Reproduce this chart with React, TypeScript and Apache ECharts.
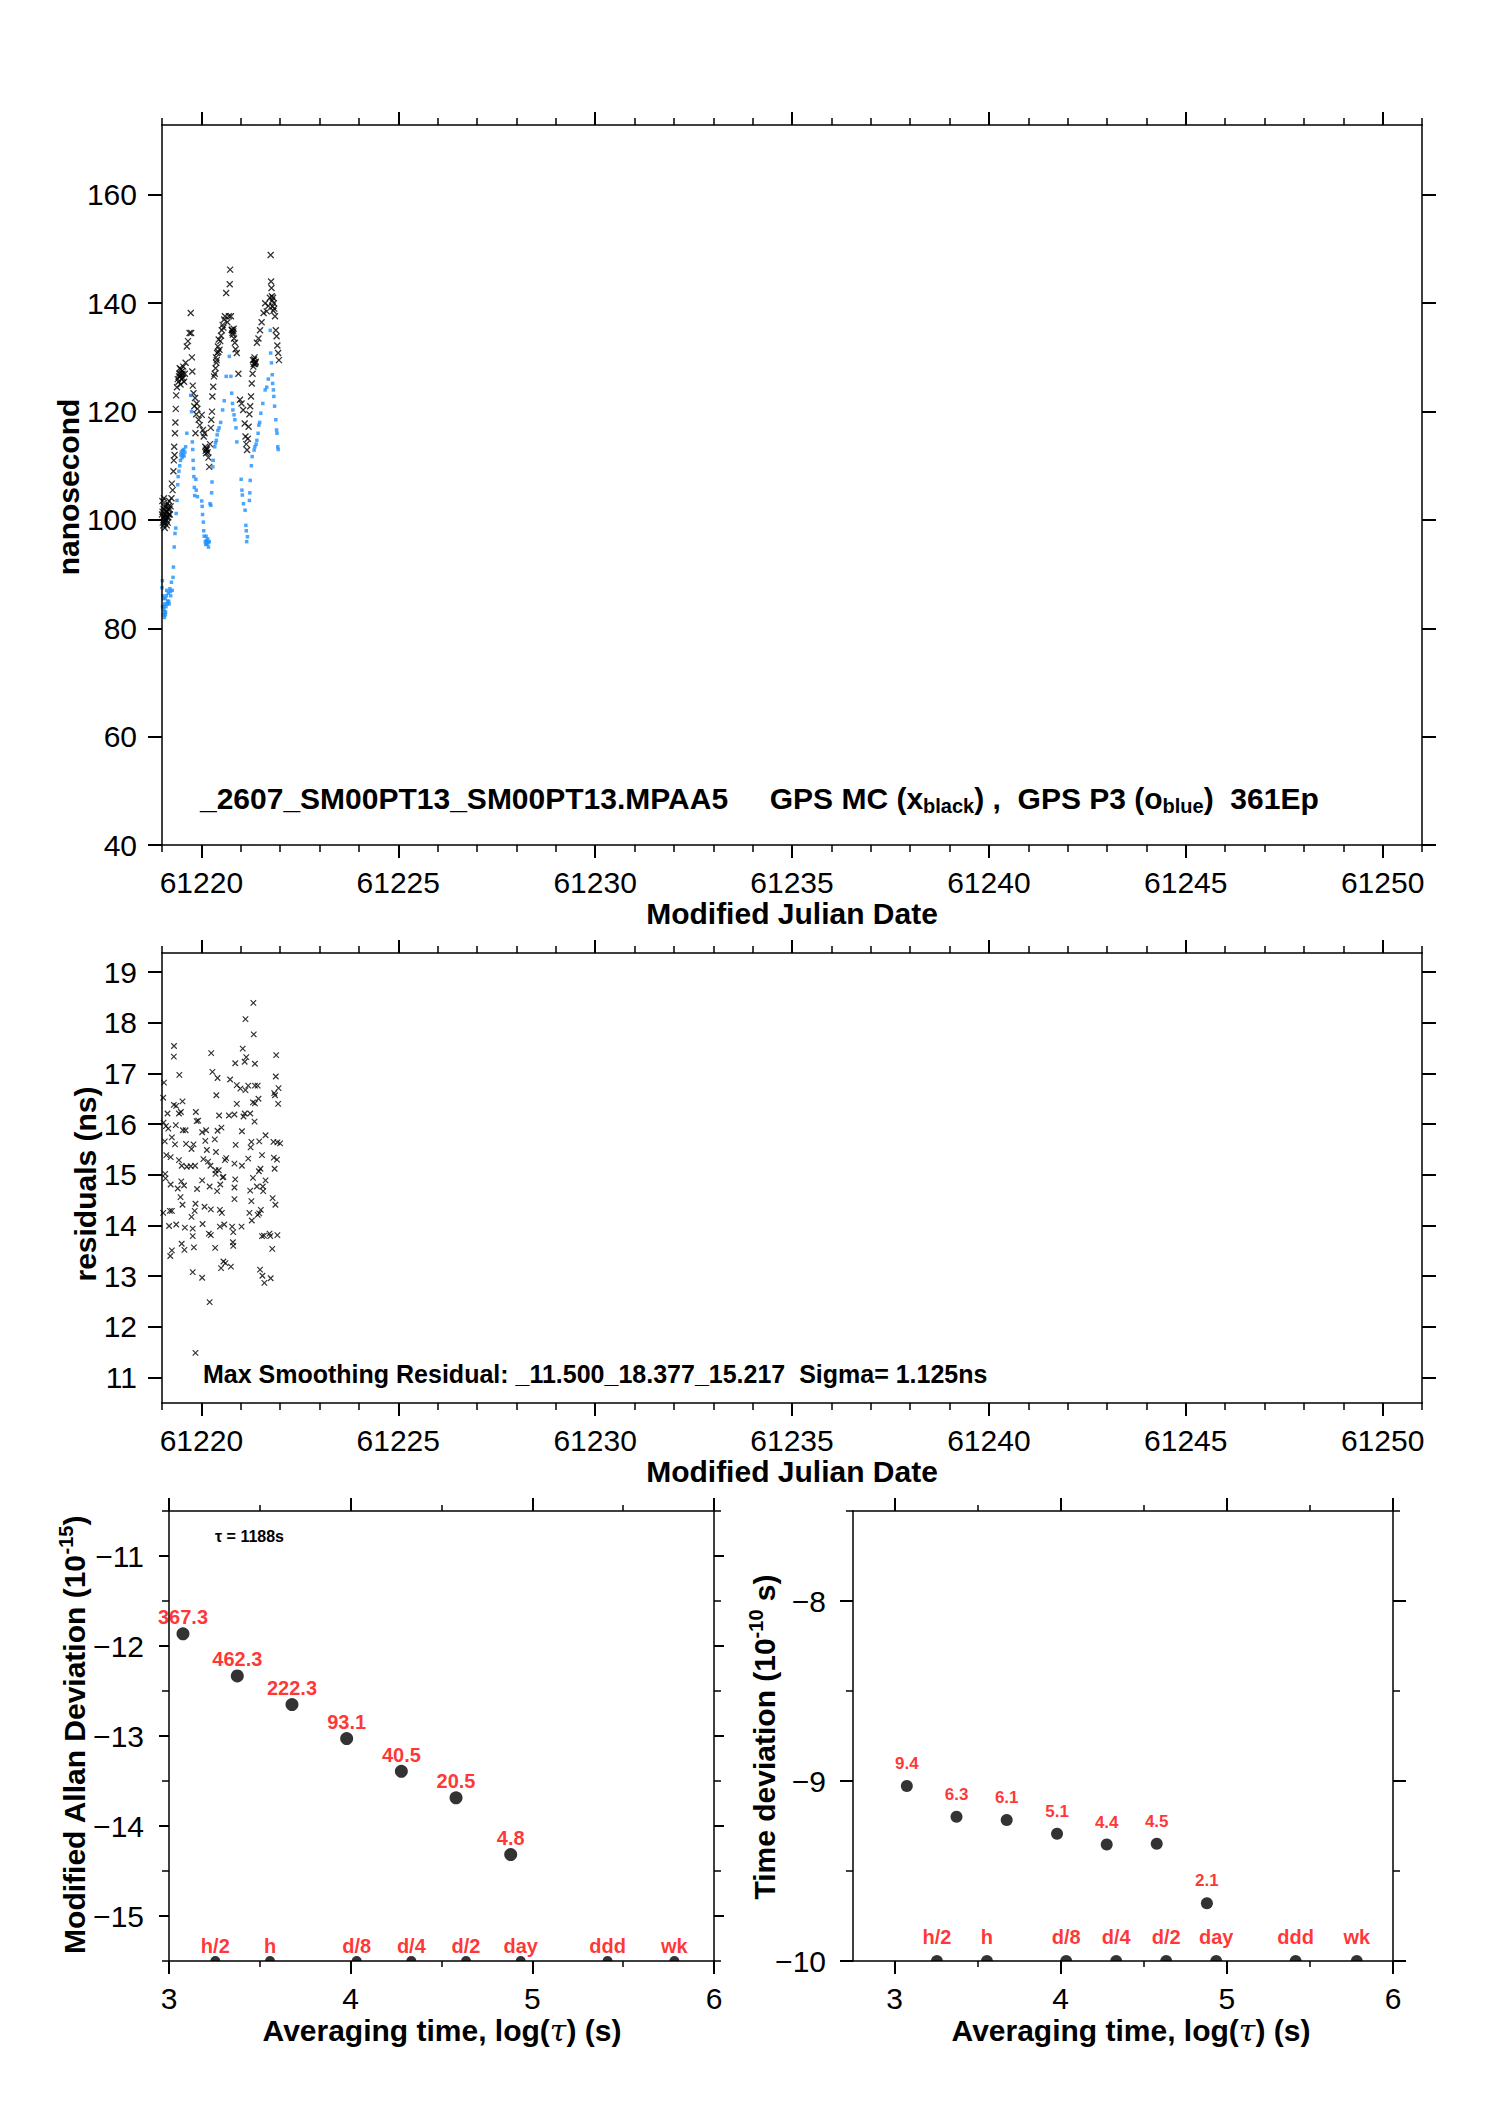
import { useEffect, useRef } from "react"
import * as echarts from "echarts"

const FONT = "Liberation Sans"

// ---- time axis (MJD) ----
const mjdStart = 61219
const mjdMin = 61219
const mjdMax = 61251
const mjdMajorTicks = [61220, 61225, 61230, 61235, 61240, 61245, 61250]
const mjdMinorTicks = Array.from({ length: mjdMax - mjdMin + 1 }, (_, i) => mjdMin + i)

// ---- top panel: nanosecond ----
const nsRange = [40, 172.9]
const nsTicks = [40, 60, 80, 100, 120, 140, 160]

// [days after mjdStart, ns]  GPS MC (black x)
const gpsMc = [
  [0.0, 101], [0.01, 103.5], [0.015, 101.5], [0.02, 99.5], [0.03, 100.5], [0.035, 99], [0.04, 102], [0.05, 104],
  [0.055, 102.5], [0.06, 100], [0.07, 98.5], [0.075, 100.5], [0.08, 99.5], [0.09, 101], [0.1, 102.5], [0.105, 101.5],
  [0.11, 100], [0.12, 99], [0.125, 100.5], [0.13, 101.5], [0.14, 103], [0.145, 99.5], [0.15, 102], [0.16, 100.5],
  [0.165, 102.5], [0.17, 101], [0.18, 103.5], [0.19, 102], [0.2, 101], [0.22, 102.5], [0.24, 104], [0.25, 106.7],
  [0.27, 105.5], [0.29, 109], [0.3, 111], [0.31, 113.5], [0.32, 112], [0.33, 116], [0.34, 118], [0.35, 120.5],
  [0.36, 123], [0.38, 124.5], [0.4, 126], [0.42, 125.5], [0.43, 126.5], [0.44, 127], [0.45, 128], [0.46, 126.5],
  [0.47, 125], [0.48, 127.8], [0.49, 126.8], [0.5, 126], [0.51, 127.5], [0.52, 127], [0.53, 126.2], [0.54, 128.3],
  [0.56, 125.5], [0.58, 127], [0.6, 129], [0.63, 132], [0.66, 133], [0.7, 134.5], [0.73, 138.2], [0.74, 134.5],
  [0.76, 130], [0.77, 127.4], [0.78, 124.8], [0.8, 123.4], [0.82, 121], [0.84, 122.5], [0.85, 116], [0.87, 119.5],
  [0.88, 121.5], [0.9, 120.5], [0.93, 118.5], [0.96, 117.5], [1.01, 119.4], [1.04, 116.6], [1.06, 115.4], [1.08, 116],
  [1.1, 113.5], [1.11, 112.8], [1.12, 112.3], [1.13, 113.2], [1.14, 113], [1.16, 112.5], [1.18, 111.5], [1.2, 109.8],
  [1.22, 114], [1.24, 117], [1.25, 118.5], [1.27, 120], [1.28, 122.8], [1.3, 124.6], [1.32, 126.5], [1.34, 127],
  [1.36, 128], [1.37, 130], [1.38, 129], [1.39, 129.5], [1.4, 130.8], [1.42, 132], [1.43, 131], [1.44, 133.3],
  [1.46, 131.4], [1.48, 133], [1.5, 134], [1.52, 135], [1.54, 136], [1.56, 135.5], [1.58, 137], [1.6, 137.6],
  [1.63, 141.9], [1.66, 136.5], [1.7, 137.6], [1.72, 143.5], [1.73, 146.2], [1.75, 137.6], [1.77, 135.1], [1.78, 135],
  [1.79, 134.5], [1.8, 134.2], [1.81, 134.8], [1.82, 135.3], [1.83, 133.5], [1.85, 132.7], [1.87, 131.5], [1.9, 130.8],
  [1.94, 127], [1.98, 122.2], [2.02, 121.5], [2.06, 120.3], [2.1, 117.8], [2.12, 115.4], [2.14, 114], [2.16, 112.9],
  [2.18, 115], [2.2, 117.2], [2.22, 119.5], [2.24, 121], [2.26, 122.8], [2.28, 125.2], [2.3, 127], [2.31, 129.5],
  [2.32, 128.3], [2.33, 128.8], [2.34, 129.6], [2.35, 130], [2.36, 128.8], [2.37, 129], [2.38, 129.2], [2.41, 132.7],
  [2.45, 133.5], [2.49, 135], [2.53, 136.5], [2.58, 138.2], [2.62, 140], [2.66, 138.5], [2.7, 139.5], [2.74, 141],
  [2.76, 148.9], [2.77, 144], [2.78, 142.8], [2.79, 141.3], [2.8, 140.5], [2.81, 139.4], [2.82, 141], [2.83, 138.6],
  [2.84, 140], [2.85, 139], [2.87, 137.6], [2.89, 135], [2.91, 133.9], [2.93, 132.2], [2.95, 130.8], [2.97, 129.5],
]

// [days after mjdStart, ns]  GPS P3 (blue o)
const gpsP3 = [
  [0.0, 87.5], [0.01, 88.8], [0.015, 84], [0.02, 86], [0.03, 84], [0.035, 85.5], [0.04, 82.5], [0.05, 83.5],
  [0.06, 82], [0.065, 83], [0.07, 84.5], [0.08, 85.5], [0.085, 82.5], [0.09, 83], [0.1, 84], [0.11, 86],
  [0.12, 87], [0.13, 84.5], [0.14, 85], [0.16, 86.5], [0.17, 85], [0.18, 84.5], [0.2, 87.3], [0.21, 86.8],
  [0.22, 86], [0.24, 88.5], [0.26, 87], [0.28, 89.4], [0.29, 91.3], [0.31, 95], [0.33, 97.5], [0.35, 98.5],
  [0.36, 101.2], [0.38, 103.6], [0.4, 106.5], [0.41, 108], [0.43, 109], [0.45, 110], [0.47, 111], [0.48, 112],
  [0.49, 112.5], [0.51, 111.5], [0.52, 112.8], [0.53, 112], [0.55, 113], [0.56, 111.8], [0.58, 112.5], [0.6, 113.5],
  [0.63, 116], [0.73, 123], [0.75, 120], [0.77, 114.4], [0.78, 113], [0.79, 111], [0.8, 109.5], [0.81, 108],
  [0.82, 106], [0.83, 104.5], [0.86, 107.5], [0.87, 105.5], [0.9, 104.3], [1.01, 103.5], [1.02, 102.5], [1.03, 101],
  [1.05, 99.6], [1.06, 98], [1.07, 97], [1.1, 96], [1.11, 95.5], [1.12, 97], [1.13, 96.2], [1.14, 95.5],
  [1.16, 96.5], [1.17, 95.8], [1.18, 95], [1.2, 96], [1.22, 103], [1.24, 102.7], [1.26, 105], [1.27, 107],
  [1.29, 109.8], [1.3, 111], [1.34, 113.5], [1.36, 114.2], [1.38, 114.7], [1.4, 115.7], [1.42, 116.5], [1.45, 117],
  [1.49, 118], [1.54, 120.3], [1.58, 122], [1.63, 126.5], [1.71, 130.2], [1.75, 126.5], [1.77, 123.4], [1.79, 121.5],
  [1.8, 120.3], [1.83, 119.4], [1.85, 118.5], [1.88, 117], [1.9, 114.4], [2.01, 107.5], [2.03, 105.5], [2.04, 104.6],
  [2.07, 103], [2.11, 101.8], [2.13, 99], [2.14, 98], [2.15, 96], [2.17, 96.9], [2.22, 103.6], [2.23, 105],
  [2.24, 107.3], [2.27, 110], [2.29, 111.7], [2.34, 112.9], [2.36, 113.5], [2.39, 114], [2.41, 114.7], [2.44, 116],
  [2.46, 117.5], [2.48, 118], [2.51, 119.7], [2.56, 121.5], [2.62, 124], [2.66, 124.5], [2.7, 126], [2.75, 135],
  [2.76, 130.8], [2.78, 129], [2.8, 126.8], [2.81, 125.2], [2.83, 124], [2.84, 122.8], [2.86, 121], [2.89, 118.5],
  [2.91, 116.6], [2.92, 116], [2.94, 113.5], [2.95, 113],
]

// ---- middle panel: residuals (ns) ----
const residualRange = [10.5, 19.375]
const residualTicks = [11, 12, 13, 14, 15, 16, 17, 18, 19]

// [days after mjdStart, ns]
const residuals = [
  [2.32, 18.39], [2.12, 18.07], [2.33, 17.77], [0.305, 17.54], [2.05, 17.49], [0.3, 17.33], [1.25, 17.4], [2.14, 17.32],
  [2.1, 17.23], [1.86, 17.2], [2.36, 17.19], [2.9, 17.36], [0.44, 16.97], [1.28, 17.03], [1.41, 16.91], [1.73, 16.88],
  [2.89, 16.94], [0.05, 16.82], [1.9, 16.77], [1.99, 16.7], [2.12, 16.67], [2.19, 16.76], [2.36, 16.76], [2.43, 16.76],
  [2.96, 16.71], [2.85, 16.61], [2.87, 16.57], [1.38, 16.57], [0.03, 16.52], [1.9, 16.4], [2.45, 16.5], [2.36, 16.41],
  [2.31, 16.43], [0.3, 16.38], [0.36, 16.36], [0.52, 16.45], [2.95, 16.4], [0.14, 16.21], [0.43, 16.21], [0.48, 16.24],
  [0.86, 16.24], [0.92, 16.07], [0.88, 16.06], [1.45, 16.17], [1.7, 16.17], [1.84, 16.19], [2.07, 16.15], [2.1, 16.21],
  [2.24, 16.21], [2.35, 16.05], [0.04, 16.03], [0.1, 15.96], [0.16, 15.91], [0.35, 15.98], [0.53, 15.88], [0.6, 15.88],
  [1.02, 15.84], [1.12, 15.88], [1.41, 15.87], [1.51, 15.93], [2.03, 15.86], [2.63, 15.78], [0.07, 15.66], [0.25, 15.74],
  [0.33, 15.6], [0.61, 15.61], [0.8, 15.6], [1.1, 15.67], [1.34, 15.7], [1.87, 15.59], [2.27, 15.65], [2.47, 15.66],
  [2.83, 15.65], [2.93, 15.64], [3.0, 15.62], [0.75, 15.51], [1.14, 15.49], [1.37, 15.45], [2.25, 15.54], [0.11, 15.39],
  [0.22, 15.35], [0.43, 15.29], [0.5, 15.18], [0.63, 15.16], [0.73, 15.17], [0.84, 15.18], [1.05, 15.31], [1.17, 15.26],
  [1.23, 15.18], [1.63, 15.33], [1.6, 15.29], [1.84, 15.22], [2.03, 15.18], [2.19, 15.32], [2.54, 15.39], [2.84, 15.34],
  [2.92, 15.3], [1.36, 15.09], [1.44, 15.09], [1.36, 15.02], [1.54, 14.95], [1.56, 14.96], [2.5, 15.12], [2.46, 15.07],
  [2.86, 15.12], [0.08, 15.02], [0.09, 14.93], [0.22, 14.81], [0.4, 14.73], [0.49, 14.87], [0.56, 14.79], [1.02, 14.89],
  [0.89, 14.72], [1.21, 14.77], [1.4, 14.68], [1.48, 14.81], [1.86, 14.91], [1.84, 14.75], [2.31, 14.94], [2.41, 14.77],
  [2.24, 14.69], [2.56, 14.77], [2.63, 14.89], [2.57, 14.68], [0.47, 14.56], [0.52, 14.41], [0.85, 14.43], [1.08, 14.37],
  [1.24, 14.32], [1.47, 14.31], [1.52, 14.25], [1.84, 14.52], [2.27, 14.48], [2.81, 14.54], [2.88, 14.41], [0.03, 14.25],
  [0.2, 14.29], [0.25, 14.29], [0.75, 14.17], [0.83, 14.29], [2.22, 14.25], [2.28, 14.1], [2.43, 14.21], [2.51, 14.31],
  [2.47, 14.24], [0.18, 13.99], [0.36, 14.02], [0.58, 13.96], [0.78, 13.94], [0.78, 13.79], [1.03, 14.03], [1.19, 13.84],
  [1.24, 13.81], [1.47, 13.98], [1.58, 14.02], [1.78, 13.98], [1.81, 13.87], [2.02, 13.98], [2.54, 13.79], [2.59, 13.8],
  [2.73, 13.84], [2.75, 13.79], [2.93, 13.81], [0.25, 13.51], [0.21, 13.4], [0.5, 13.64], [0.57, 13.52], [0.81, 13.57],
  [1.35, 13.56], [1.8, 13.67], [1.81, 13.6], [2.8, 13.54], [1.56, 13.29], [1.5, 13.16], [1.61, 13.26], [1.75, 13.19],
  [0.78, 13.08], [1.02, 12.97], [2.49, 13.13], [2.55, 13.01], [2.6, 12.87], [2.76, 12.96], [1.21, 12.49], [0.85, 11.49],
]

// ---- bottom panels ----
const logTauRangeLeft = [3, 6]
const logTauRangeRight = [2.75, 6]
const logTauMajor = [3, 4, 5, 6]
const logTauMinor = [3.5, 4.5, 5.5]

const adevRange = [-15.5, -10.5]
const adevMajor = [-15, -14, -13, -12, -11]
const adevMinor = [-15.5, -14.5, -13.5, -12.5, -11.5, -10.5]
const adevLogTau = [3.077, 3.376, 3.677, 3.978, 4.279, 4.58, 4.881]
const adevValues = [-11.865, -12.333, -12.651, -13.028, -13.393, -13.687, -14.317]
const adevLabels = ["367.3", "462.3", "222.3", "93.1", "40.5", "20.5", "4.8"]

const tdevRange = [-10, -7.5]
const tdevMajor = [-10, -9, -8]
const tdevMinor = [-9.5, -8.5, -7.5]
const tdevLogTau = [3.074, 3.373, 3.675, 3.978, 4.277, 4.578, 4.88]
const tdevValues = [-9.028, -9.199, -9.217, -9.293, -9.353, -9.349, -9.679]
const tdevLabels = ["9.4", "6.3", "6.1", "5.1", "4.4", "4.5", "2.1"]

const markerLogTau = [3.255, 3.556, 4.033, 4.334, 4.635, 4.936, 5.414, 5.782]
const markerLabels = ["h/2", "h", "d/8", "d/4", "d/2", "day", "ddd", "wk"]

const MINUS = "\u2212"
const fmtNum = (v: number) => (v < 0 ? MINUS + Math.abs(v) : String(v))

function axisPair(
  dim: "x" | "y",
  gridIndex: number,
  range: number[],
  major: number[],
  minor: number[],
  majorLen: number,
  minorLen: number,
  labelMargin: number
) {
  const [p1, p2] = dim === "x" ? ["bottom", "top"] : ["left", "right"]
  const base = { gridIndex, type: "value", min: range[0], max: range[1], splitLine: { show: false }, z: 10 }
  const line = { show: true, onZero: false, lineStyle: { color: "#000", width: 1.5 } }
  const majTick = { show: true, inside: false, customValues: major, length: majorLen, lineStyle: { color: "#000", width: 2 } }
  const minTick = { show: true, inside: false, customValues: minor, length: minorLen, lineStyle: { color: "#000", width: 1.5 } }
  return [
    {
      ...base,
      position: p1,
      axisLine: line,
      axisTick: majTick,
      axisLabel: {
        show: true,
        customValues: major,
        margin: labelMargin,
        color: "#000",
        fontFamily: FONT,
        fontSize: 30,
        formatter: fmtNum,
      },
    },
    { ...base, position: p1, axisLine: { show: false }, axisTick: minTick, axisLabel: { show: false } },
    { ...base, position: p2, axisLine: line, axisTick: majTick, axisLabel: { show: false } },
    { ...base, position: p2, axisLine: { show: false }, axisTick: minTick, axisLabel: { show: false } },
  ]
}

const xMark = "path://M0,0L10,10M10,0L0,10"
const halfDot = "path://M0,10A10,10,0,0,1,20,10Z"

function title(text: string, x: number, y: number, rotate = false, size = 30) {
  return {
    type: "text",
    x,
    y,
    rotation: rotate ? Math.PI / 2 : 0,
    z: 20,
    style: {
      text,
      fill: "#000",
      fontFamily: FONT,
      fontWeight: "bold",
      fontSize: size,
      align: "center",
      verticalAlign: "middle",
      textAlign: "center",
      textVerticalAlign: "middle",
      rich: {
        m: { fontFamily: FONT, fontWeight: "bold", fontSize: size, lineHeight: 36, fill: "#000" },
        sup: { fontFamily: FONT, fontWeight: "bold", fontSize: 20, lineHeight: 20, verticalAlign: "top", fill: "#000" },
        tau: { fontFamily: "DejaVu Serif", fontStyle: "italic", fontSize: size, lineHeight: 36, fill: "#000" },
      },
    },
  }
}

function buildOption() {
  const xAxis = [
    ...axisPair("x", 0, [mjdMin, mjdMax], mjdMajorTicks, mjdMinorTicks, 13, 7, 22),
    ...axisPair("x", 1, [mjdMin, mjdMax], mjdMajorTicks, mjdMinorTicks, 13, 7, 22),
    ...axisPair("x", 2, logTauRangeLeft, logTauMajor, logTauMinor, 13, 6, 22),
    ...axisPair("x", 3, logTauRangeRight, logTauMajor, logTauMinor, 13, 6, 22),
  ]
  const yAxis = [
    ...axisPair("y", 0, nsRange, nsTicks, [], 14, 7, 25),
    ...axisPair("y", 1, residualRange, residualTicks, [], 14, 7, 25),
    ...axisPair("y", 2, adevRange, adevMajor, adevMinor, 10, 7, 25),
    ...axisPair("y", 3, tdevRange, tdevMajor, tdevMinor, 13, 7, 27),
  ]

  const redLabel = (size: number, distance: number) => ({
    show: true,
    position: "top",
    distance,
    formatter: "{b}",
    color: "#ff0000",
    fontFamily: FONT,
    fontWeight: "bold",
    fontSize: size,
  })

  return {
    animation: false,
    backgroundColor: "#fff",
    grid: [
      { left: 162, top: 125, width: 1260, height: 720 },
      { left: 162, top: 953, width: 1260, height: 450 },
      { left: 169, top: 1511, width: 545, height: 450 },
      { left: 853, top: 1511, width: 540, height: 450 },
    ],
    xAxis,
    yAxis,
    series: [
      {
        type: "scatter",
        xAxisIndex: 0,
        yAxisIndex: 0,
        symbol: xMark,
        symbolSize: 6,
        itemStyle: { color: "transparent", borderColor: "#000", borderWidth: 1.3 },
        data: gpsMc.map(([t, v]) => [mjdStart + t, v]),
      },
      {
        type: "scatter",
        xAxisIndex: 0,
        yAxisIndex: 0,
        symbol: "rect",
        symbolSize: 3.5,
        itemStyle: { color: "#1e90ff" },
        data: gpsP3.map(([t, v]) => [mjdStart + t, v]),
      },
      {
        type: "scatter",
        xAxisIndex: 4,
        yAxisIndex: 4,
        symbol: xMark,
        symbolSize: 5.5,
        itemStyle: { color: "transparent", borderColor: "#000", borderWidth: 1.2 },
        data: residuals.map(([t, v]) => [mjdStart + t, v]),
      },
      {
        type: "scatter",
        xAxisIndex: 8,
        yAxisIndex: 8,
        symbol: "circle",
        symbolSize: 13,
        itemStyle: { color: "#000" },
        label: redLabel(20, 0),
        data: adevLogTau.map((x, i) => ({ value: [x, adevValues[i]], name: adevLabels[i] })),
      },
      {
        type: "scatter",
        xAxisIndex: 8,
        yAxisIndex: 8,
        symbol: halfDot,
        symbolSize: [10, 5],
        symbolOffset: [0, -2.5],
        itemStyle: { color: "#000" },
        label: redLabel(20, 0),
        data: markerLogTau.map((x, i) => ({ value: [x, adevRange[0]], name: markerLabels[i] })),
      },
      {
        type: "scatter",
        xAxisIndex: 12,
        yAxisIndex: 12,
        symbol: "circle",
        symbolSize: 12,
        itemStyle: { color: "#000" },
        label: redLabel(17, 8),
        data: tdevLogTau.map((x, i) => ({ value: [x, tdevValues[i]], name: tdevLabels[i] })),
      },
      {
        type: "scatter",
        xAxisIndex: 12,
        yAxisIndex: 12,
        symbol: halfDot,
        symbolSize: [12, 6],
        symbolOffset: [0, -3],
        itemStyle: { color: "#000" },
        label: redLabel(20, 8),
        data: markerLogTau.map((x, i) => ({ value: [x, tdevRange[0]], name: markerLabels[i] })),
      },
    ],
    graphic: [
      {
        type: "text",
        x: 200,
        y: 798,
        z: 20,
        style: {
          text:
            "{m|_2607_SM00PT13_SM00PT13.MPAA5\u00a0\u00a0\u00a0\u00a0\u00a0GPS MC (x}{s|black}{m|) ,\u00a0\u00a0GPS P3 (o}{s|blue}{m|)\u00a0\u00a0361Ep}",
          align: "left",
          verticalAlign: "middle",
          textAlign: "left",
          textVerticalAlign: "middle",
          rich: {
            m: { fontFamily: FONT, fontWeight: "bold", fontSize: 30, lineHeight: 36, fill: "#000" },
            s: { fontFamily: FONT, fontWeight: "bold", fontSize: 20, lineHeight: 22, verticalAlign: "bottom", fill: "#000" },
          },
        },
      },
      {
        type: "text",
        x: 203,
        y: 1374,
        z: 20,
        style: {
          text: "Max Smoothing Residual: _11.500_18.377_15.217\u00a0\u00a0Sigma= 1.125ns",
          fill: "#000",
          fontFamily: FONT,
          fontWeight: "bold",
          fontSize: 25,
          align: "left",
          verticalAlign: "middle",
          textAlign: "left",
          textVerticalAlign: "middle",
        },
      },
      {
        type: "text",
        x: 215,
        y: 1536,
        z: 20,
        style: {
          text: "\u03c4 = 1188s",
          fill: "#000",
          fontFamily: FONT,
          fontWeight: "bold",
          fontSize: 16,
          align: "left",
          verticalAlign: "middle",
          textAlign: "left",
          textVerticalAlign: "middle",
        },
      },
      title("{m|nanosecond}", 68, 487, true),
      title("{m|residuals (ns)}", 85, 1184, true),
      title("{m|Modified Julian Date}", 792, 913),
      title("{m|Modified Julian Date}", 792, 1471),
      title("{m|Modified Allan Deviation (10}{sup|-15}{m|)}", 74, 1735, true),
      title("{m|Time deviation (10}{sup|-10}{m| s)}", 764, 1737, true),
      title("{m|Averaging time, log(}{tau|\u03c4}{m|) (s)}", 442, 2030),
      title("{m|Averaging time, log(}{tau|\u03c4}{m|) (s)}", 1131, 2030),
    ],
  }
}

export default function App() {
  const chartRef = useRef<HTMLDivElement>(null)

  useEffect(() => {
    document.body.style.margin = "0"
    if (!chartRef.current) return
    const chart = echarts.init(chartRef.current, undefined, { renderer: "svg" })
    chart.setOption(buildOption() as any)
    return () => {
      chart.dispose()
    }
  }, [])

  return <div ref={chartRef} style={{ width: 1488, height: 2105, background: "#fff" }} />
}
